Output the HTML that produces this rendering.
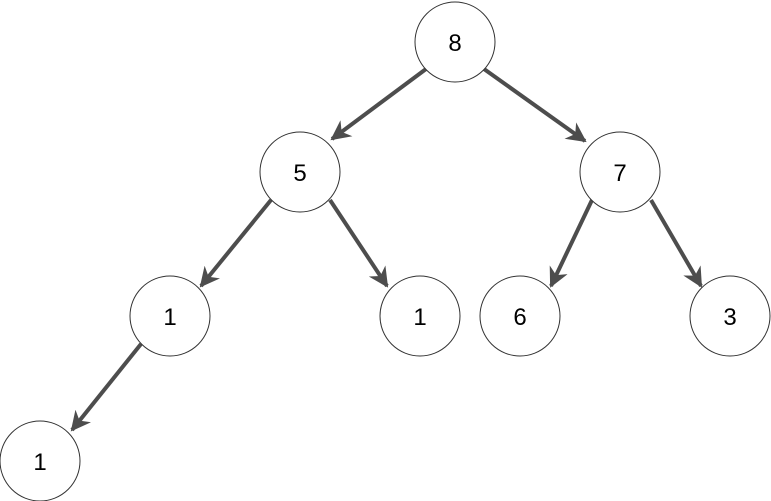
<!DOCTYPE html>
<html><head><meta charset="utf-8"><style>
html,body{margin:0;padding:0;background:#fff;width:771px;height:501px;overflow:hidden}
svg text{font-family:"Liberation Sans",Helvetica,Arial,sans-serif;font-size:24px;fill:#000}
</style></head><body>
<svg width="771" height="501" viewBox="0 0 771 501" xmlns="http://www.w3.org/2000/svg">
<defs>
<marker id="a" viewBox="0 0 10 10" refX="9" refY="5" markerWidth="5" markerHeight="5" orient="auto" markerUnits="strokeWidth">
<path d="M0,0 L10,5 L0,10 L3,5 Z" fill="#4d4d4d"/>
</marker>
</defs>
<g stroke="#4d4d4d" stroke-width="4" fill="none" marker-end="url(#a)">
<line x1="426" y1="69" x2="332" y2="139"/>
<line x1="484" y1="69" x2="585" y2="141"/>
<line x1="271" y1="200" x2="201" y2="286"/>
<line x1="330" y1="200" x2="387" y2="286"/>
<line x1="592" y1="200" x2="551" y2="286"/>
<line x1="651" y1="200" x2="701" y2="286"/>
<line x1="141" y1="344" x2="72" y2="430"/>
</g>
<g fill="#fff" stroke="#333" stroke-width="1">
<circle cx="455" cy="42" r="40"/>
<circle cx="300" cy="172" r="40"/>
<circle cx="620" cy="172" r="40"/>
<circle cx="170" cy="316" r="40"/>
<circle cx="420" cy="316" r="40"/>
<circle cx="520" cy="316" r="40"/>
<circle cx="730" cy="316" r="40"/>
<circle cx="40" cy="461" r="40"/>
</g>
<g text-anchor="middle">
<text x="455" y="51">8</text>
<text x="300" y="181">5</text>
<text x="620" y="181">7</text>
<text x="170" y="325">1</text>
<text x="420" y="325">1</text>
<text x="520" y="325">6</text>
<text x="730" y="325">3</text>
<text x="40" y="470">1</text>
</g>
</svg>
</body></html>
